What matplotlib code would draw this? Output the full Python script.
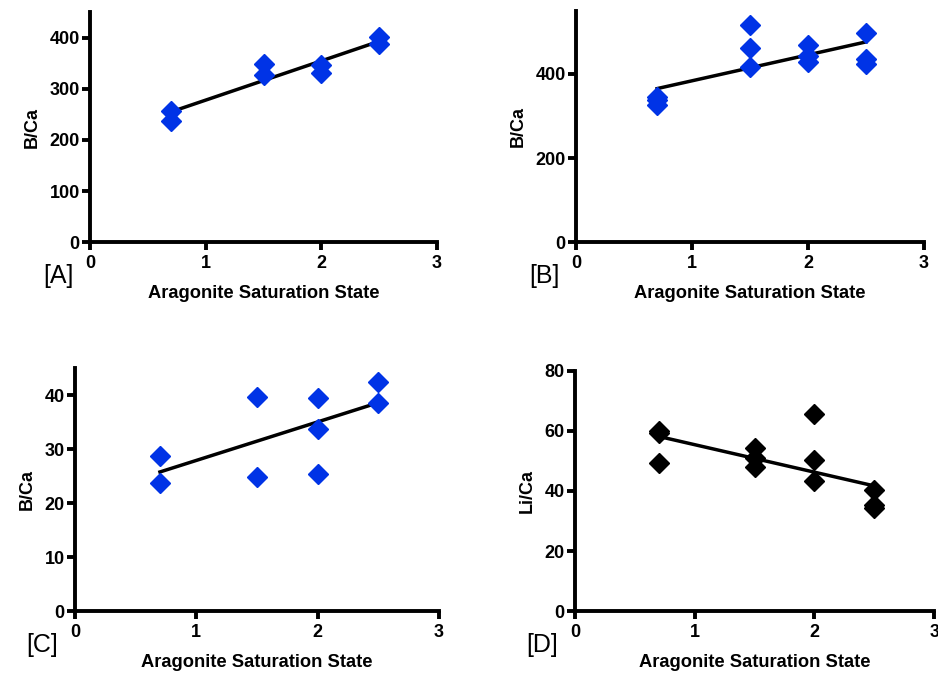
import numpy as np
import matplotlib
matplotlib.use("Agg")
import matplotlib.pyplot as plt

plt.rcParams['font.family'] = ['Liberation Sans', 'DejaVu Sans']

# Datos
omega_a = [0.7, 0.7, 1.5, 1.5, 2.0, 2.0, 2.5, 2.5]
bca_a = [256, 238, 349, 328, 347, 331, 402, 387]

omega_b = [0.7, 0.7, 0.7, 1.5, 1.5, 1.5, 2.0, 2.0, 2.0, 2.5, 2.5, 2.5]
bca_b = [345, 338, 327, 516, 461, 417, 469, 443, 429, 498, 435, 424]

omega_c = [0.7, 0.7, 1.5, 1.5, 2.0, 2.0, 2.0, 2.5, 2.5]
bca_c = [28.7, 23.7, 39.7, 24.9, 39.5, 33.8, 25.4, 42.5, 38.6]

omega_d = [0.7, 0.7, 0.7, 1.5, 1.5, 1.5, 2.0, 2.0, 2.0, 2.5, 2.5, 2.5]
lica_d = [59.8, 59.2, 49.2, 54.4, 51.0, 48.0, 65.6, 50.4, 43.4, 40.3, 35.2, 34.2]

x_ticks = [0, 1, 2, 3]
paneles = [
    # x, y, ylabel, ymax, yticks, color, etiqueta, posicion
    (omega_a, bca_a, "B/Ca", 450, [0, 100, 200, 300, 400], "#0033e6", "[A]", [0.096, 0.640, 0.370, 0.342]),
    (omega_b, bca_b, "B/Ca", 550, [0, 200, 400], "#0033e6", "[B]", [0.614, 0.640, 0.371, 0.344]),
    (omega_c, bca_c, "B/Ca", 45, [0, 10, 20, 30, 40], "#0033e6", "[C]", [0.080, 0.092, 0.388, 0.361]),
    (omega_d, lica_d, "Li/Ca", 80, [0, 20, 40, 60, 80], "#000000", "[D]", [0.613, 0.092, 0.383, 0.357]),
]

fig = plt.figure(figsize=(9.38, 6.73), dpi=100)

for x, y, ylab, ymax, yt, color, etiqueta, pos in paneles:
    ax = fig.add_axes(pos)
    x = np.array(x)
    y = np.array(y)
    # recta de regresion
    m, b = np.polyfit(x, y, 1)
    xl = np.array([x.min(), x.max()])
    ax.plot(xl, m * xl + b, color="black", lw=2.5, zorder=2)
    ax.plot(x, y, "D", color=color, ms=10, mec=color, zorder=3, clip_on=False)

    ax.set_xlim(0, 3)
    ax.set_ylim(0, ymax)
    ax.set_xticks(x_ticks)
    ax.set_yticks(yt)
    ax.spines['top'].set_visible(False)
    ax.spines['right'].set_visible(False)
    ax.spines['left'].set_linewidth(2.8)
    ax.spines['bottom'].set_linewidth(2.8)
    ax.tick_params(width=2.8, length=6, labelsize=13, pad=1.5)
    ax.tick_params(axis="x", pad=3.5)
    for lbl in ax.get_xticklabels() + ax.get_yticklabels():
        lbl.set_fontweight("bold")
    ax.set_xlabel("Aragonite Saturation State", fontsize=13.2, fontweight="bold", labelpad=9)
    ax.set_ylabel(ylab, fontsize=13, fontweight="bold", labelpad=6)
    ax.annotate(etiqueta, xy=(0, 0), xycoords="axes fraction", xytext=(-12, -24.5),
                textcoords="offset points", fontsize=18, ha="right", va="center")

fig.savefig("out.png", dpi=100)
